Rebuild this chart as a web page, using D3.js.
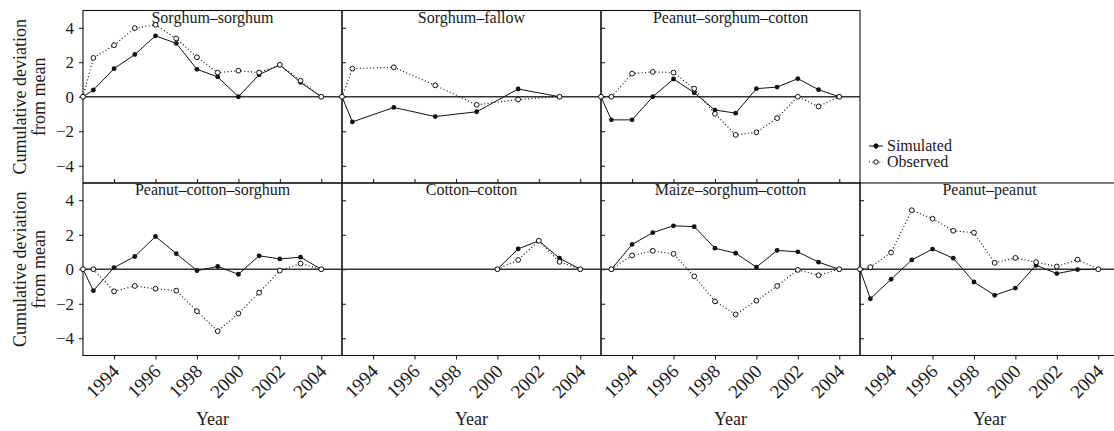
<!DOCTYPE html>
<html>
<head>
<meta charset="utf-8">
<script src="https://cdn.jsdelivr.net/npm/d3@7/dist/d3.min.js"></script>
<style>
body { margin: 0; background: #fff; }
text { font-family: "Liberation Serif", "Times New Roman", serif; fill: #1a1a1a; }
</style>
</head>
<body>
<div id="chart-area"></div>
<script>
// Data //

const fullYears  = [1992.5, 1993, 1994, 1995, 1996, 1997, 1998, 1999, 2000, 2001, 2002, 2003, 2004];
const altYears   = [1992.5, 1993, 1995, 1997, 1999, 2001, 2003];
const cottonYears = [2000, 2001, 2002, 2003, 2004];
const maizeYears = [1993, 1994, 1995, 1996, 1997, 1998, 1999, 2000, 2001, 2002, 2003, 2004];

const ssSim  = [0, 0.39, 1.63, 2.45, 3.53, 3.10, 1.59, 1.15, 0, 1.28, 1.85, 0.83, 0];
const ssObs  = [0, 2.25, 2.99, 3.98, 4.17, 3.38, 2.29, 1.40, 1.51, 1.40, 1.85, 0.93, 0];
const sfSim  = [0, -1.46, -0.62, -1.15, -0.87, 0.45, 0];
const sfObs  = [0, 1.63, 1.71, 0.66, -0.47, -0.16, 0];
const pscSim = [0, -1.34, -1.34, 0, 1.03, 0.23, -0.77, -0.95, 0.47, 0.56, 1.05, 0.41, 0];
const pscObs = [0, 0, 1.34, 1.44, 1.40, 0.47, -0.99, -2.21, -2.06, -1.24, 0, -0.56, 0];
const pcsSim = [0, -1.24, 0.10, 0.74, 1.90, 0.91, -0.08, 0.16, -0.29, 0.78, 0.60, 0.70, 0];
const pcsObs = [0, 0, -1.28, -0.97, -1.13, -1.24, -2.43, -3.59, -2.56, -1.36, -0.08, 0.33, 0];
const ccSim  = [0, 1.18, 1.65, 0.64, 0];
const ccObs  = [0, 0.54, 1.65, 0.43, 0];
const mscSim = [0, 1.44, 2.12, 2.52, 2.47, 1.22, 0.93, 0.12, 1.09, 1.01, 0.41, 0];
const mscObs = [0, 0.80, 1.07, 0.89, -0.41, -1.86, -2.62, -1.83, -0.97, -0.04, -0.35, 0];
const ppSim  = [0, -1.71, -0.58, 0.54, 1.17, 0.64, -0.74, -1.51, -1.09, 0.23, -0.25, -0.02, 0];
const ppObs  = [0, 0.12, 0.97, 3.42, 2.93, 2.23, 2.12, 0.37, 0.66, 0.41, 0.16, 0.56, 0];

const tickYears = [1994, 1996, 1998, 2000, 2002, 2004];
const yTicks = [-4, -2, 0, 2, 4];
const seriesNames = ["Simulated", "Observed"];

const panels = [
  {name: "Sorghum–sorghum",       row: 0, col: 0, years: fullYears,   sim: ssSim,  obs: ssObs},
  {name: "Sorghum–fallow",        row: 0, col: 1, years: altYears,    sim: sfSim,  obs: sfObs},
  {name: "Peanut–sorghum–cotton", row: 0, col: 2, years: fullYears,   sim: pscSim, obs: pscObs},
  {name: "Peanut–cotton–sorghum", row: 1, col: 0, years: fullYears,   sim: pcsSim, obs: pcsObs},
  {name: "Cotton–cotton",         row: 1, col: 1, years: cottonYears, sim: ccSim,  obs: ccObs},
  {name: "Maize–sorghum–cotton",  row: 1, col: 2, years: maizeYears,  sim: mscSim, obs: mscObs},
  {name: "Peanut–peanut",         row: 1, col: 3, years: fullYears,   sim: ppSim,  obs: ppObs}
];

// Layout //

const colX = [83, 342, 601, 860];
const rowY = [10.5, 183];
const panelW = 259;
const panelH = 172.5;

const svg = d3.select("#chart-area")
  .append("svg")
  .attr("width", 1114)
  .attr("height", 431);

// scales
const xScale = d3.scaleLinear()
  .domain([1992.5, 2005])
  .range([0, panelW]);

const yScale = d3.scaleLinear()
  .domain([-5, 5])
  .range([panelH, 0]);

const seriesLine = d3.line()
  .x(d => xScale(d[0]))
  .y(d => yScale(d[1]));

panels.forEach(p => {
  const g = svg.append("g")
    .attr("transform", "translate(" + colX[p.col] + "," + rowY[p.row] + ")");

  // Y axis: outward on the far left, pointing right elsewhere
  const yAxisCall = d3.axisLeft(yScale)
    .tickValues(yTicks)
    .tickSizeInner(p.col === 0 ? 4 : -4)
    .tickSizeOuter(0)
    .tickPadding(5);
  const ya = g.append("g").attr("class", "y axis").call(yAxisCall);
  ya.select(".domain").remove();
  ya.selectAll("line").attr("stroke", "#111");
  ya.selectAll("text").attr("font-size", "17px").attr("fill", "#1a1a1a");
  if (p.col !== 0) ya.selectAll("text").remove();

  // X axis: up on the top row, down on the bottom row
  const xAxisCall = d3.axisBottom(xScale)
    .tickValues(tickYears)
    .tickSizeInner(p.row === 0 ? -4 : 4)
    .tickSizeOuter(0)
    .tickFormat(d3.format("d"));
  const xa = g.append("g")
    .attr("class", "x axis")
    .attr("transform", "translate(0," + panelH + ")")
    .call(xAxisCall);
  xa.select(".domain").remove();
  xa.selectAll("line").attr("stroke", "#111");
  if (p.row === 1) {
    xa.selectAll("text")
      .attr("font-size", "19px")
      .attr("fill", "#1a1a1a")
      .attr("x", 0).attr("y", 0).attr("dy", 0)
      .attr("text-anchor", "end")
      .attr("transform", "translate(6,17) rotate(-45)");
  } else {
    xa.selectAll("text").remove();
  }

  // frame
  g.append("rect")
    .attr("width", panelW)
    .attr("height", panelH)
    .attr("fill", "none")
    .attr("stroke", "#111")
    .attr("stroke-width", 1.1);

  // zero line
  g.append("line")
    .attr("x1", 0).attr("x2", panelW)
    .attr("y1", yScale(0)).attr("y2", yScale(0))
    .attr("stroke", "#333")
    .attr("stroke-width", 1.3);

  // title
  g.append("text")
    .attr("x", panelW / 2)
    .attr("y", 12)
    .attr("font-size", "16px")
    .attr("text-anchor", "middle")
    .text(p.name);

  const simPts = p.years.map((yr, i) => [yr, p.sim[i]]);
  const obsPts = p.years.map((yr, i) => [yr, p.obs[i]]);

  // simulated: solid line, filled dots
  g.append("path")
    .attr("d", seriesLine(simPts))
    .attr("fill", "none")
    .attr("stroke", "#111")
    .attr("stroke-width", 1);
  g.selectAll("circle.sim").data(simPts).enter()
    .append("circle")
    .attr("class", "sim")
    .attr("cx", d => xScale(d[0]))
    .attr("cy", d => yScale(d[1]))
    .attr("r", 2.4)
    .attr("fill", "#111");

  // observed: dotted line, open circles
  g.append("path")
    .attr("d", seriesLine(obsPts))
    .attr("fill", "none")
    .attr("stroke", "#111")
    .attr("stroke-width", 1.2)
    .attr("stroke-dasharray", "1,2.4");
  g.selectAll("circle.obs").data(obsPts).enter()
    .append("circle")
    .attr("class", "obs")
    .attr("cx", d => xScale(d[0]))
    .attr("cy", d => yScale(d[1]))
    .attr("r", 2.4)
    .attr("fill", "#fff")
    .attr("stroke", "#111")
    .attr("stroke-width", 1);

  // x label
  if (p.row === 1) {
    g.append("text")
      .attr("x", panelW / 2)
      .attr("y", 425 - rowY[1])
      .attr("font-size", "18px")
      .attr("text-anchor", "middle")
      .text("Year");
  }
});

// Y axis titles
rowY.forEach(ry => {
  const cy = ry + panelH / 2;
  const t = svg.append("text")
    .attr("transform", "translate(0," + cy + ") rotate(-90)")
    .attr("font-size", "18px")
    .attr("text-anchor", "middle");
  t.append("tspan").attr("x", 0).attr("y", 26).text("Cumulative deviation");
  t.append("tspan").attr("x", 0).attr("y", 45).text("from mean");
});

// Legend
const legend = svg.append("g").attr("transform", "translate(869,146)");
seriesNames.forEach((s, i) => {
  const lg = legend.append("g").attr("transform", "translate(0," + (i * 16) + ")");
  lg.append("line")
    .attr("x1", 0).attr("x2", 14)
    .attr("stroke", "#111")
    .attr("stroke-width", i === 0 ? 1 : 1.2)
    .attr("stroke-dasharray", i === 0 ? null : "1,2.4");
  lg.append("circle")
    .attr("cx", 7)
    .attr("r", 2.2)
    .attr("fill", i === 0 ? "#111" : "#fff")
    .attr("stroke", "#111")
    .attr("stroke-width", 1);
  lg.append("text")
    .attr("x", 18)
    .attr("y", 5)
    .attr("font-size", "16px")
    .text(s);
});
</script>
</body>
</html>
